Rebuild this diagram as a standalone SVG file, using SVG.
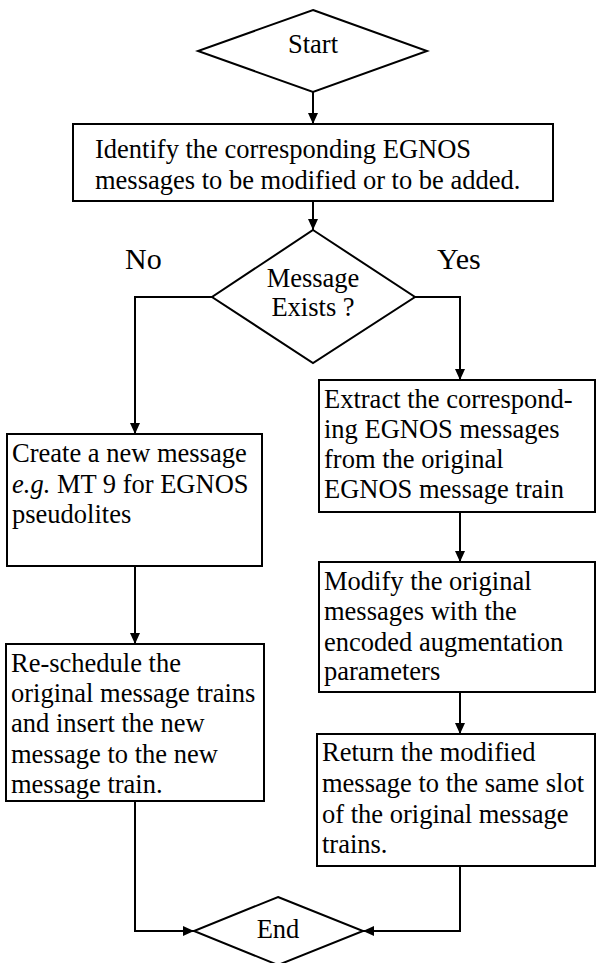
<svg xmlns="http://www.w3.org/2000/svg" width="596" height="963" viewBox="0 0 596 963">
<defs>
<marker id="ah" markerUnits="userSpaceOnUse" markerWidth="12" markerHeight="10" refX="11" refY="5" orient="auto">
<path d="M0,0 L11,5 L0,10 Z" fill="#000"/>
</marker>
<style>
.s{fill:#fff;stroke:#000;stroke-width:2}
.c{fill:none;stroke:#000;stroke-width:2;marker-end:url(#ah)}
text{font-family:"Liberation Serif","Times New Roman",serif;font-size:26.5px;fill:#000}
.m{text-anchor:middle}
.l{font-size:30px}
</style>
</defs>
<rect width="596" height="963" fill="#fff"/>
<g id="connectors">
<path class="c" d="M313,92 V124"/>
<path class="c" d="M313,201 V230"/>
<path class="c" d="M212,297 H135 V434"/>
<path class="c" d="M415,297 H460 V380"/>
<path class="c" d="M460,512 V562"/>
<path class="c" d="M135,566 V644"/>
<path class="c" d="M460,692 V734"/>
<path class="c" d="M135,801 V931 H194"/>
<path class="c" d="M460,866 V931 H363"/>
</g>
<g id="start">
<polygon class="s" points="313,10 427,51 313,92 198,51"/>
<text class="m" x="313" y="53">Start</text>
</g>
<g id="identify">
<rect class="s" x="73" y="124" width="480" height="77"/>
<text x="95" y="158">Identify the corresponding EGNOS</text>
<text x="95" y="189">messages to be modified or to be added.</text>
</g>
<g id="decision">
<polygon class="s" points="313,230 415,297 313,363 212,297"/>
<text class="m" x="313" y="287">Message</text>
<text class="m" x="313" y="316">Exists ?</text>
</g>
<g id="labels">
<text class="l" x="125" y="269">No</text>
<text class="l" x="437" y="269">Yes</text>
</g>
<g id="create">
<rect class="s" x="7" y="434" width="255" height="132"/>
<text x="12" y="462">Create a new message</text>
<text x="12" y="493"><tspan font-style="italic">e.g.</tspan> MT 9 for EGNOS</text>
<text x="12" y="523">pseudolites</text>
</g>
<g id="extract">
<rect class="s" x="319" y="380" width="276" height="132"/>
<text x="324" y="408">Extract the correspond-</text>
<text x="324" y="438">ing EGNOS messages</text>
<text x="324" y="468">from the original</text>
<text x="324" y="498">EGNOS message train</text>
</g>
<g id="modify">
<rect class="s" x="319" y="562" width="276" height="130"/>
<text x="324" y="590">Modify the original</text>
<text x="324" y="620">messages with the</text>
<text x="324" y="651">encoded augmentation</text>
<text x="324" y="680">parameters</text>
</g>
<g id="reschedule">
<rect class="s" x="6" y="644" width="258" height="157"/>
<text x="11" y="672">Re-schedule the</text>
<text x="11" y="702">original message trains</text>
<text x="11" y="732">and insert the new</text>
<text x="11" y="763">message to the new</text>
<text x="11" y="793">message train.</text>
</g>
<g id="return">
<rect class="s" x="317" y="734" width="278" height="132"/>
<text x="322" y="761">Return the modified</text>
<text x="322" y="792">message to the same slot</text>
<text x="322" y="823">of the original message</text>
<text x="322" y="853">trains.</text>
</g>
<g id="end">
<polygon class="s" points="278,897 363,931 278,965 194,931"/>
<text class="m" x="278" y="938">End</text>
</g>
</svg>
